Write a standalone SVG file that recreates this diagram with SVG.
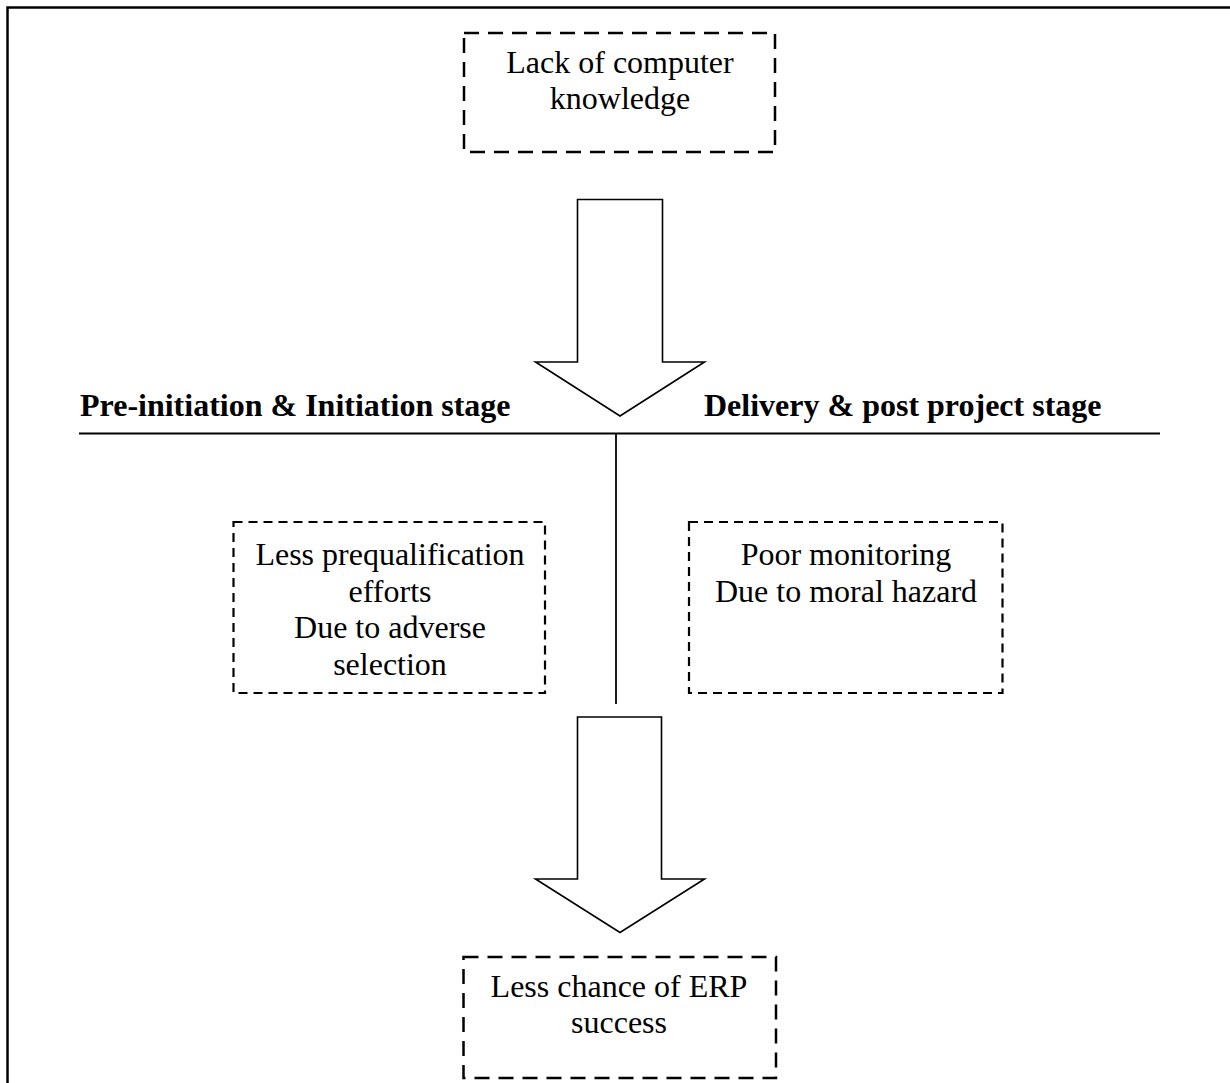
<svg xmlns="http://www.w3.org/2000/svg" width="1230" height="1083" viewBox="0 0 1230 1083">
  <style>
    .frame { fill: none; stroke: #000; stroke-width: 2.5; }
    .box-lg { fill: #fff; stroke: #000; stroke-width: 2.5; stroke-dasharray: 15 9; }
    .box-sm { fill: #fff; stroke: #000; stroke-width: 2.2; stroke-dasharray: 9 6; }
    .arrow { fill: #fff; stroke: #000; stroke-width: 1.6; stroke-linejoin: miter; }
    .rule { fill: none; stroke: #000; stroke-width: 1.8; }
    .label { font-family: "Liberation Serif", "Times New Roman", serif; font-size: 32px; fill: #000; text-anchor: middle; }
    .stage { font-family: "Liberation Serif", "Times New Roman", serif; font-size: 32px; font-weight: bold; fill: #000; }
  </style>

  <rect width="1230" height="1083" fill="#fff"/>

  <!-- page frame (open on right and bottom) -->
  <path class="frame" d="M7.5,1083 V7.5 H1230"/>

  <!-- stage headings -->
  <text class="stage" x="80" y="416">Pre-initiation &amp; Initiation stage</text>
  <text class="stage" x="704" y="416">Delivery &amp; post project stage</text>

  <g id="connectors">
    <line class="rule" x1="79" y1="433.5" x2="1160" y2="433.5"/>
    <line class="rule" x1="616" y1="433.5" x2="616" y2="704"/>
    <polygon class="arrow" points="577.5,199.5 662.5,199.5 662.5,362 704.5,362 620,416 535.5,362 577.5,362"/>
    <polygon class="arrow" points="577.5,717 661.5,717 661.5,879 704.5,879 620,932.5 535.5,879 577.5,879"/>
  </g>

  <g id="lack-of-knowledge">
    <rect class="box-lg" x="464" y="33" width="311" height="119"/>
    <text class="label" x="620" y="73">Lack of computer</text>
    <text class="label" x="620" y="109">knowledge</text>
  </g>

  <g id="adverse-selection">
    <rect class="box-sm" x="233.5" y="522" width="311.5" height="171"/>
    <text class="label" x="390" y="565">Less prequalification</text>
    <text class="label" x="390" y="602">efforts</text>
    <text class="label" x="390" y="638">Due to adverse</text>
    <text class="label" x="390" y="675">selection</text>
  </g>

  <g id="moral-hazard">
    <rect class="box-sm" x="689" y="522" width="313.5" height="171"/>
    <text class="label" x="846" y="565">Poor monitoring</text>
    <text class="label" x="846" y="602">Due to moral hazard</text>
  </g>

  <g id="erp-success">
    <rect class="box-lg" x="463.5" y="957" width="312.5" height="121"/>
    <text class="label" x="619" y="997">Less chance of ERP</text>
    <text class="label" x="619" y="1033">success</text>
  </g>
</svg>
